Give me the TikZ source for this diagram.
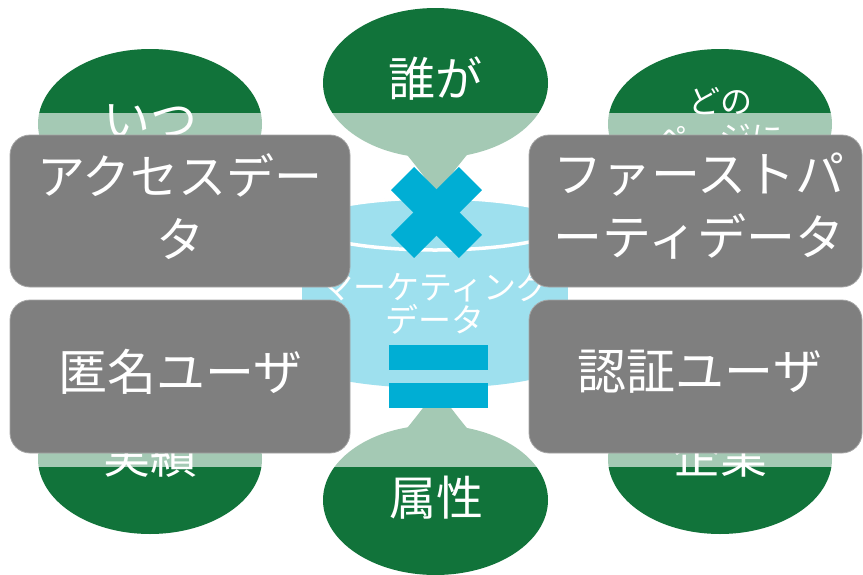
\documentclass[tikz,border=0pt]{standalone}
\usepackage{fontspec}
\setmainfont{Noto Sans CJK JP}
\usetikzlibrary{shapes.geometric}
\definecolor{dgreen}{RGB}{17,115,58}
\definecolor{xblue}{RGB}{0,174,212}
\definecolor{boxgray}{RGB}{127,127,127}
\definecolor{boxedge}{RGB}{165,165,165}
\tikzset{
  oval/.style={ellipse, fill=dgreen, minimum width=224pt, minimum height=150pt, inner sep=0pt},
  bigtxt/.style={text=white, align=center, inner sep=0pt, font=\fontsize{47}{63}\selectfont},
  smalltxt/.style={text=white, align=center, inner sep=0pt, font=\fontsize{32}{36}\selectfont},
  cyltxt/.style={text=white, align=center, inner sep=0pt, font=\fontsize{33}{33}\selectfont},
  graybox/.style={fill=boxgray, draw=boxedge, line width=0.8pt, rounded corners=20pt},
  signpart/.style={fill=xblue, inner sep=0pt, outer sep=0pt},
}
\begin{document}
\begin{tikzpicture}[x=1pt,y=-1pt]
\useasboundingbox (0,0) rectangle (863,574);
\fill[white] (0,0) rectangle (863,574);

% corner ovals
\node[oval] (itsu) at (150,124) {};
\node[oval] (dono) at (720,124) {};
\node[oval] (jisseki) at (150,459) {};
\node[oval] (kigyo) at (720,459) {};
\node[bigtxt] (itsuT) at (150,121) {いつ};
\node[smalltxt] (donoT) at (720,119) {どの\\ページに};
\node[bigtxt] (jissekiT) at (150,456) {実績};
\node[bigtxt] (kigyoT) at (720,456) {企業};

% central speech bubbles
\node[oval, minimum width=225pt] (dare) at (435.5,83) {};
\fill[dgreen] (403,150) .. controls (418,168) and (430,184) .. (437,195)
   .. controls (444,184) and (456,168) .. (471,150) -- cycle;
\node[oval, minimum width=225pt] (zoku) at (435.5,500) {};
\fill[dgreen] (403,433) .. controls (418,415) and (430,399) .. (437,388)
   .. controls (444,399) and (456,415) .. (471,433) -- cycle;
\node[bigtxt] (dareT) at (435.5,79) {誰が};
\node[bigtxt] (zokuT) at (436,498) {属性};

% cylinder
\fill[xblue] (302,224) rectangle (568,361);
\fill[xblue] (435,361) ellipse [x radius=133pt, y radius=27pt];
\fill[xblue] (435,224) ellipse [x radius=133pt, y radius=27pt];
\draw[white, line width=3.5pt] (435,224) ellipse [x radius=131pt, y radius=26pt];
\node[cyltxt] (cylT) at (435,303.5) {マーケティング\\データ};

% faded band
\fill[white, opacity=0.62] (0,113) rectangle (863,467);

% gray boxes
\draw[graybox] (10,135) rectangle (350,287);
\draw[graybox] (529,135) rectangle (862,287);
\draw[graybox] (10,300) rectangle (350,453);
\draw[graybox] (529,300) rectangle (862,453);
\node[bigtxt, font=\fontsize{48}{63}\selectfont] (access) at (180,206.5) {アクセスデー\\タ};
\node[bigtxt, font=\fontsize{49}{63}\selectfont] (first) at (699,206.5) {ファーストパ\\ーティデータ};
\node[bigtxt, font=\fontsize{49}{63}\selectfont] (tokumei) at (180.5,372) {匿名ユーザ};
\node[bigtxt, font=\fontsize{49}{63}\selectfont] (ninsho) at (700,372) {認証ユーザ};

% times sign
\node[signpart, rotate=45, minimum width=96pt, minimum height=32.6pt] (times1) at (436.5,212.5) {};
\node[signpart, rotate=-45, minimum width=96pt, minimum height=32.6pt] (times2) at (436.5,212.5) {};
% equals sign
\node[signpart, minimum width=99pt, minimum height=25pt] (eq1) at (438.5,357.5) {};
\node[signpart, minimum width=99pt, minimum height=25pt] (eq2) at (438.5,395.5) {};
\end{tikzpicture}
\end{document}
